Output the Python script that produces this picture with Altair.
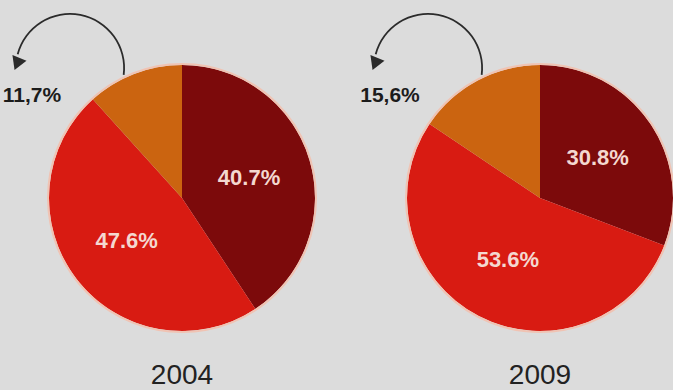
import math
import altair as alt
import pandas as pd

# ---- data ----
years = ["2004", "2009"]
categories = ["Quota A", "Quota B", "Quota C"]
shares_2004 = [40.7, 47.6, 11.7]
shares_2009 = [30.8, 53.6, 15.6]
colors = ["#7c0a0b", "#d81b12", "#cb6410"]

rows = []
for year, shares in zip(years, [shares_2004, shares_2009]):
    for i, (cat, s) in enumerate(zip(categories, shares)):
        rows.append({"year": year, "category": cat, "order": i, "share": s,
                     "label": f"{s:.1f}%"})
slices = pd.DataFrame(rows)

outer = pd.DataFrame({
    "year": years,
    "label": [f"{s[2]:.1f}%".replace(".", ",") for s in [shares_2004, shares_2009]],
})

# ---- scales ----
X = alt.X("year:N", scale=alt.Scale(type="point", domain=years, range=[182, 540], padding=0), axis=None)
tscale = alt.Scale(domain=[0, 100], range=[0, 2 * math.pi])
CY = 198

base = (
    alt.Chart(slices)
    .transform_window(cum="sum(share)", groupby=["year"], sort=[alt.SortField("order")], frame=[None, 0])
    .transform_calculate(start="datum.cum - datum.share", mid="datum.cum - datum.share / 2")
)

pie = base.mark_arc(radius=133, strokeWidth=0).encode(
    x=X,
    y=alt.value(CY),
    theta=alt.Theta("start:Q", scale=tscale),
    theta2="cum:Q",
    color=alt.Color("category:N", scale=alt.Scale(domain=categories, range=colors), legend=None),
)

rim = alt.Chart(outer).mark_arc(
    radius=134, theta=0, theta2=2 * math.pi, fillOpacity=0, stroke="#f0c3b3", strokeWidth=2
).encode(x=X, y=alt.value(CY))

inner_labels = base.transform_filter("datum.order < 2").mark_text(
    radius=70, fontSize=22, fontWeight="bold", font="Liberation Sans", color="#f4d8d0"
).encode(
    x=X,
    y=alt.value(CY),
    theta=alt.Theta("mid:Q", scale=tscale, stack=None),
    text="label:N",
)

arrow = alt.Chart(outer).mark_arc(
    radius=55, radius2=53.2, theta=4.97, theta2=7.98, color="#2b2b2b", xOffset=-112
).encode(x=X, y=alt.value(68))

arrowhead = alt.Chart(outer).mark_point(
    shape="triangle-down", filled=True, size=230, angle=22, color="#2b2b2b", opacity=1, xOffset=-165
).encode(x=X, y=alt.value(64))

outer_labels = alt.Chart(outer).mark_text(
    fontSize=21, fontWeight="bold", font="Liberation Sans Narrow, Liberation Sans", color="#1c1c1c", dx=-150
).encode(x=X, y=alt.value(96), text="label:N")

year_labels = alt.Chart(outer).mark_text(
    fontSize=28, font="Liberation Sans", color="#222222", baseline="alphabetic"
).encode(x=X, y=alt.value(384), text="year:N")

chart = (
    alt.layer(pie, rim, inner_labels, arrow, arrowhead, outer_labels, year_labels)
    .properties(width=673, height=390, background="#dcdcdc", padding=0, autosize="none")
    .configure_view(stroke=None)
)

chart.save("out.html", embed_options={"renderer": "svg", "actions": False})
